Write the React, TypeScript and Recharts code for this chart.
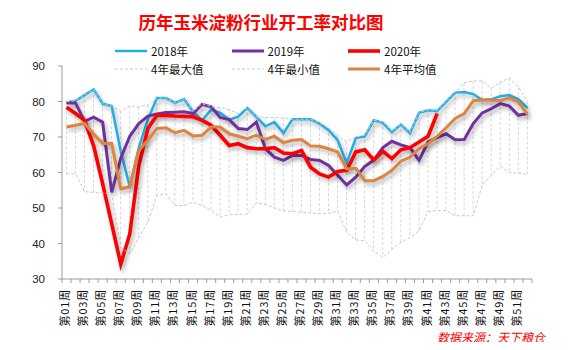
import React from 'react';
import { ComposedChart, Line, Bar, XAxis, YAxis } from 'recharts';

const weeks = [
  '第01周','第02周','第03周','第04周','第05周','第06周','第07周','第08周','第09周','第10周',
  '第11周','第12周','第13周','第14周','第15周','第16周','第17周','第18周','第19周','第20周',
  '第21周','第22周','第23周','第24周','第25周','第26周','第27周','第28周','第29周','第30周',
  '第31周','第32周','第33周','第34周','第35周','第36周','第37周','第38周','第39周','第40周',
  '第41周','第42周','第43周','第44周','第45周','第46周','第47周','第48周','第49周','第50周',
  '第51周','第52周',
];

const y2018 = [
  79.7, 80.2, 81.8, 83.4, 79.4, 78.7, 66, 56, 67, 75,
  81, 81, 79.6, 80.7, 77.1, 74.7, 77.7, 76.8, 74.9, 75.7,
  78.2, 75.7, 73.0, 74.2, 71.1, 75.0, 75.0, 75.0, 73.8, 71.9,
  69.1, 62.6, 69.7, 70.2, 74.7, 74.0, 71.4, 73.5, 71.1, 76.8,
  77.5, 77.3, 79.9, 82.5, 82.7, 82.1, 80.4, 80.6, 81.5, 81.8,
  80.6, 78.2,
];

const y2019 = [
  79.6, 79.6, 74.4, 75.6, 74.2, 54.4, 64, 70.2, 73.8, 75.9,
  76.5, 76.9, 77, 77.1, 76.6, 79.2, 78.5, 75.5, 74.9, 72.4,
  72.1, 74.2, 66.7, 64.3, 63.4, 64.8, 64.8, 63.7, 63.4, 62.0,
  59.2, 56.5, 58.7, 61.7, 63.5, 67.0, 68.8, 67.8, 67.0, 63.4,
  68.6, 69.8, 70.9, 69.2, 69.3, 73.8, 76.8, 78.0, 79.4, 78.7,
  76.1, 76.6,
];

const y2020 = [
  78.4, 76.6, 74.7, 67.5, 56.8, 45.5, 34.2, 42.7, 62, 72.4,
  76.1, 76.1, 75.9, 75.8, 75.7, 74.7, 73.3, 70.5, 67.6, 68.1,
  67.0, 66.7, 66.7, 67.0, 65.5, 65.3, 66.2, 61.5, 59.6, 58.7,
  60.3, 60.6, 65.8, 66.4, 63.5, 66.0, 63.9, 66.4, 67.0, 68.6,
  70.2, 76.6, null, null, null, null, null, null, null, null,
  null, null,
];

const max4 = [
  80, 80.2, 81.8, 83.4, 79.4, 78.7, 77.2, 78.8, 78.5, 79,
  81, 81, 79.6, 80.7, 77.1, 79.4, 78.6, 78.3, 77.7, 76.6,
  78.2, 75.7, 75.5, 75.5, 75.3, 75.0, 75.0, 75.0, 74, 72.5,
  70.5, 68.6, 70, 70.5, 74.7, 74.2, 71.6, 73.6, 71.3, 76.9,
  77.6, 77.4, 80, 82.6, 85.3, 85.8, 85.8, 83.7, 85.5, 86.6,
  84, 80,
];

const min4 = [
  59.6, 59.6, 54.6, 54.4, 54.2, 54.0, 38.9, 37.0, 41.7, 46.0,
  53.5, 54.0, 50.7, 50.7, 51.6, 50.7, 49.3, 47.4, 48.1, 48.2,
  48.3, 51.4, 51.0, 50.0, 49.2, 49.0, 48.8, 48.6, 48.4, 48.5,
  49.1, 43.1, 41.0, 40.8, 37.8, 36.1, 38.4, 40.3, 41.7, 43.6,
  49.0, 49.3, 49.3, 47.8, 47.8, 47.8, 56.5, 59.2, 61.8, 60.0,
  59.8, 59.5,
];

const avg4 = [
  72.8, 73.3, 73.8, 70.8, 68.2, 68.2, 55.4, 56.0, 66.2, 69.1,
  72.4, 72.6, 71.2, 71.9, 70.3, 70.5, 72.8, 72.8, 70.9, 70.2,
  69.5, 70.5, 69.3, 70.2, 68.4, 69.1, 69.3, 67.5, 67.4, 66.7,
  65.8, 61.0, 61.2, 57.7, 57.7, 58.9, 60.6, 63.2, 64.3, 66.7,
  68.1, 70.2, 72.6, 75.2, 76.6, 80.2, 80.4, 80.4, 80.2, 81.1,
  79.9, 76.4,
];

const yTicks = [30, 40, 50, 60, 70, 80, 90];

const title = '历年玉米淀粉行业开工率对比图';
const source = '数据来源：天下粮仓';

const series = [
  { key: 'y2018', name: '2018年', color: '#1FAEE8', width: 2.5, dash: undefined as string | undefined, shadow: true },
  { key: 'y2019', name: '2019年', color: '#7030A0', width: 3, dash: undefined, shadow: true },
  { key: 'y2020', name: '2020年', color: '#FF0000', width: 3.6, dash: undefined, shadow: true },
  { key: 'max4', name: '4年最大值', color: '#C8C8C8', width: 1, dash: '3 2', shadow: false },
  { key: 'min4', name: '4年最小值', color: '#C8C8C8', width: 1, dash: '3 2', shadow: false },
  { key: 'avg4', name: '4年平均值', color: '#DC8440', width: 3, dash: undefined, shadow: true },
];

const data = weeks.map((w, i) => ({
  week: w,
  y2018: y2018[i],
  y2019: y2019[i],
  y2020: y2020[i],
  max4: max4[i],
  min4: min4[i],
  avg4: avg4[i],
  range: [min4[i], max4[i]],
}));

const W = 569;
const H = 350;
const MARGIN = { top: 66, right: 37, bottom: 21, left: 22 };
const Y_W = 40;
const X_H = 50;
const PLOT_W = W - MARGIN.left - Y_W - MARGIN.right;
const BAND = PLOT_W / weeks.length;
const CJK = '"Noto Sans CJK SC", "Noto Sans", sans-serif';

const XTick = (props: any) => {
  const { x, y, index } = props;
  const i = index ?? props.payload?.index ?? 0;
  const lx = x - BAND / 2;
  const tx = x + 2.5;
  const ty = y + 10;
  return (
    <g>
      <line x1={lx} x2={lx} y1={y} y2={y + 4} stroke="#9a9a9a" strokeWidth={1} />
      {i === weeks.length - 1 && (
        <line x1={x + BAND / 2} x2={x + BAND / 2} y1={y} y2={y + 4} stroke="#9a9a9a" strokeWidth={1} />
      )}
      {i % 2 === 0 && (
        <text
          x={tx}
          y={ty}
          transform={`rotate(-90, ${tx}, ${ty})`}
          textAnchor="end"
          fontSize={11}
          fontFamily={CJK}
          fill="#111"
          letterSpacing={0.8}
        >
          {props.payload.value}
        </text>
      )}
    </g>
  );
};

const HighLow = (props: any) => {
  const { x, y, width, height } = props;
  if (x == null || y == null) return null;
  const cx = x + width / 2;
  const top = Math.min(y, y + height);
  const bot = Math.max(y, y + height);
  return <line x1={cx} x2={cx} y1={top} y2={bot} stroke="#D6D6D6" strokeWidth={1} strokeDasharray="3 2" />;
};

const LegendSwatch = ({ color, width, dash }: { color: string; width: number; dash?: string }) => (
  <svg width={32} height={8} style={{ display: 'block' }}>
    <line x1={0} x2={32} y1={4} y2={4} stroke={color} strokeWidth={width} strokeDasharray={dash} />
  </svg>
);

export default function App() {
  return (
    <div style={{ position: 'relative', width: W, height: H, margin: -8, background: '#fff', overflow: 'hidden' }}>
      <style>{'.sh .recharts-curve{filter:drop-shadow(2px 3px 2px rgba(0,0,0,0.3));}'}</style>
      <div
        style={{
          position: 'absolute',
          left: 0,
          top: 11,
          width: 522,
          textAlign: 'center',
          color: '#FF0000',
          fontWeight: 700,
          fontSize: 17.5,
          lineHeight: '22px',
          fontFamily: CJK,
        }}
      >
        {title}
      </div>
      <div
        style={{
          position: 'absolute',
          left: 115,
          top: 42,
          display: 'grid',
          gridTemplateColumns: 'repeat(3, 116.5px)',
          gridAutoRows: '18px',
          fontFamily: CJK,
          fontSize: 11.5,
          color: '#111',
        }}
      >
        {series.map((s) => (
          <div key={s.key} style={{ display: 'flex', alignItems: 'center', whiteSpace: 'nowrap' }}>
            <LegendSwatch color={s.color} width={s.width} dash={s.dash} />
            <span style={{ marginLeft: 4, lineHeight: '18px' }}>{s.name}</span>
          </div>
        ))}
      </div>
      <ComposedChart width={W} height={H} data={data} margin={MARGIN}>
        <XAxis
          dataKey="week"
          interval={0}
          tickLine={false}
          tickSize={0}
          tickMargin={0}
          height={X_H}
          axisLine={{ stroke: '#9a9a9a' }}
          tick={<XTick />}
        />
        <YAxis
          domain={[30, 90]}
          ticks={yTicks}
          width={Y_W}
          tickSize={4}
          tickMargin={13}
          axisLine={{ stroke: '#9a9a9a' }}
          tickLine={{ stroke: '#9a9a9a' }}
          tick={{ fontSize: 11.5, fill: '#222', fontFamily: '"Liberation Sans", Arial, sans-serif' }}
          interval={0}
        />
        <Bar dataKey="range" shape={<HighLow />} isAnimationActive={false} />
        {series.map((s) => (
          <Line
            key={s.key}
            dataKey={s.key}
            className={s.shadow ? 'sh' : undefined}
            type="linear"
            stroke={s.color}
            strokeWidth={s.width}
            strokeDasharray={s.dash}
            dot={false}
            activeDot={false}
            connectNulls={false}
            isAnimationActive={false}
          />
        ))}
      </ComposedChart>
      <div
        style={{
          position: 'absolute',
          left: 437,
          top: 329,
          color: '#FF0000',
          fontStyle: 'italic',
          fontSize: 12,
          fontFamily: CJK,
          lineHeight: '16px',
          whiteSpace: 'nowrap',
        }}
      >
        {source}
      </div>
    </div>
  );
}
